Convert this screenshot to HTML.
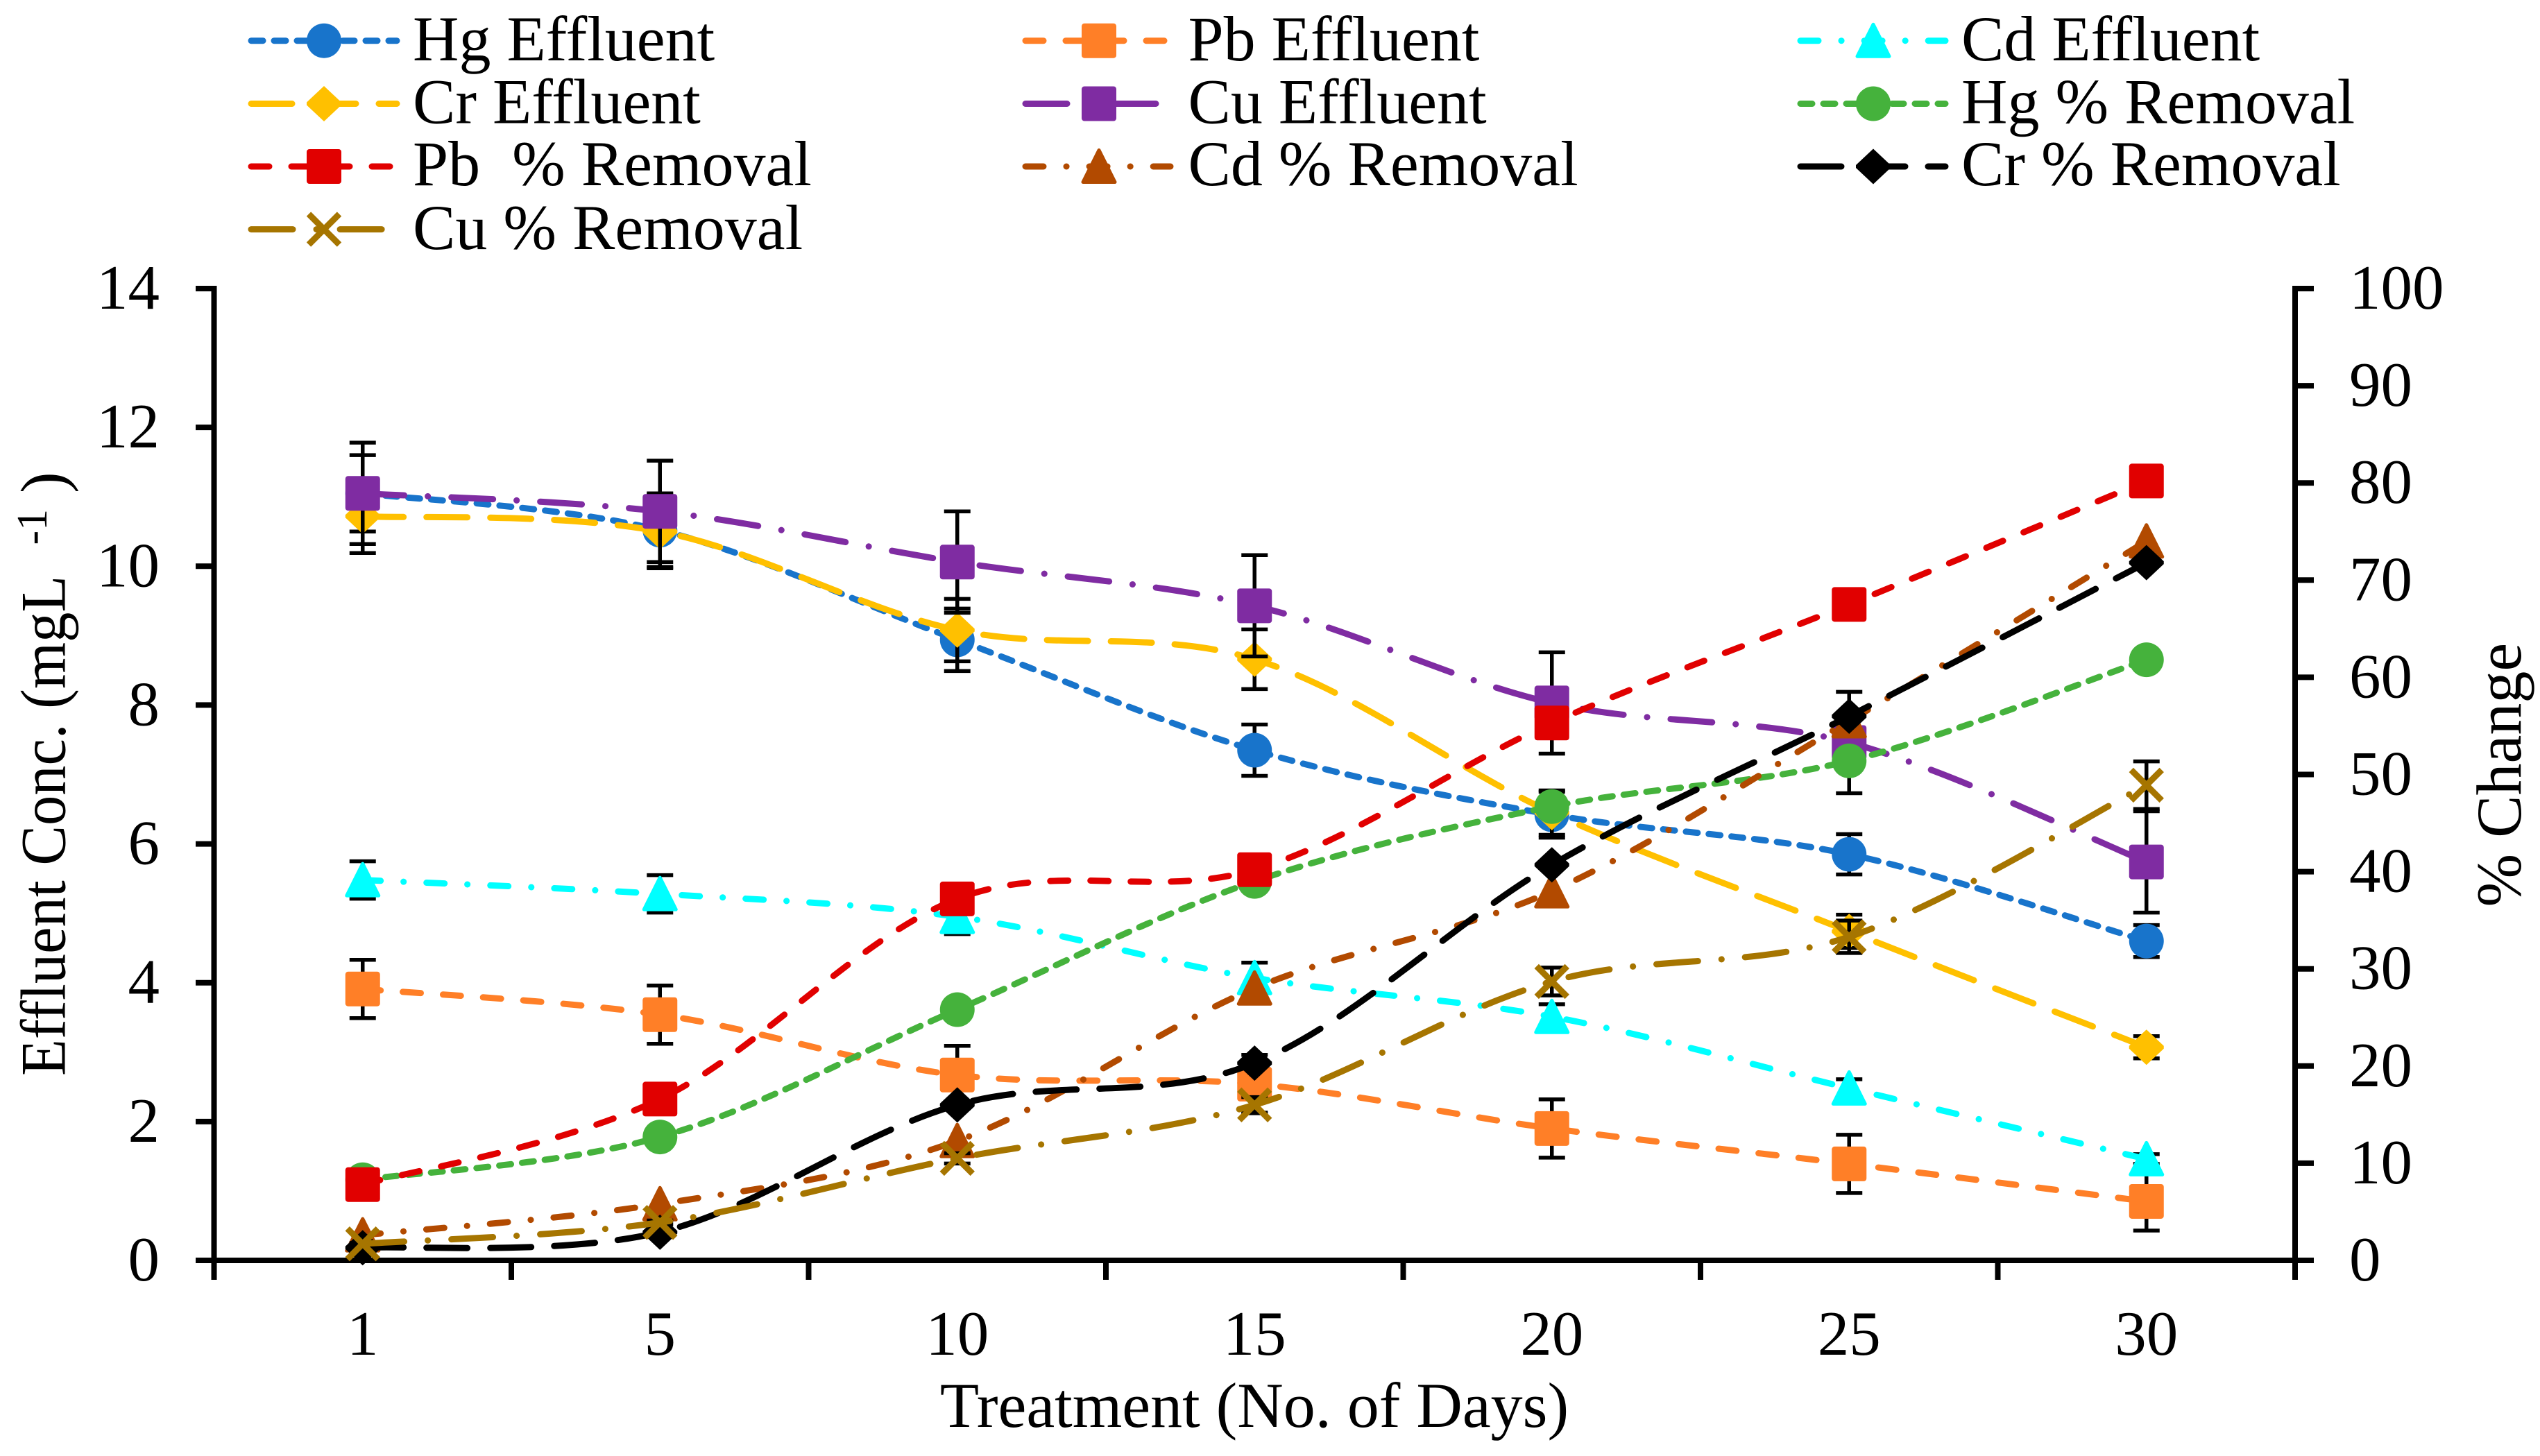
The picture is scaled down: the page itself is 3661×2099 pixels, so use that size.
<!DOCTYPE html>
<html lang="en">
<head>
<meta charset="utf-8">
<title>Effluent concentration and percent removal over treatment days</title>
<style>
html,body{margin:0;padding:0;background:#fff;width:3661px;height:2099px;overflow:hidden}
svg{display:block}
text{font-family:"Liberation Serif",serif;fill:#000;font-size:92px;white-space:pre}
text.tick{font-size:91px}
.ln{fill:none;stroke-width:9;stroke-linecap:round;stroke-linejoin:round}
.sysdot{stroke-dasharray:17 16}
.dash{stroke-dasharray:26 32}
.dashdot{stroke-dasharray:26 33 0.1 33}
.lgdash{stroke-dasharray:59 33}
.lgdashdot{stroke-dasharray:60 34 0.1 34}
</style>
</head>
<body>
<svg id="chart" xmlns="http://www.w3.org/2000/svg" width="3661" height="2099" viewBox="0 0 3661 2099">
  <rect width="3661" height="2099" fill="#fff"/>

  <g id="axes"></g>
  <g id="plot"></g>

  <text x="1808" y="2057" text-anchor="middle">Treatment (No. of Days)</text>
  <g transform="translate(93.5 1551) rotate(-90)">
    <text transform="scale(.94 1)">Effluent Conc. (mgL</text>
    <text x="765.5" y="-26.5" style="font-size:62px">-1</text>
    <text x="840" y="0">)</text>
  </g>
  <text transform="translate(3633 1307.5) rotate(-90)">% Change</text>

  <g>
    <g>
      <line class="ln sysdot" x1="362" y1="58.7" x2="572" y2="58.7" stroke="#1874CB"/>
      <circle cx="467" cy="58.7" r="25" fill="#1874CB"/>
      <text x="595" y="87">Hg Effluent</text>
    </g>
    <g>
      <line class="ln dash" x1="1478" y1="58.7" x2="1681" y2="58.7" stroke="#FF7F27"/>
      <rect x="1559" y="33.7" width="50" height="50" rx="4" fill="#FF7F27"/>
      <text x="1712.5" y="87">Pb Effluent</text>
    </g>
    <g>
      <line class="ln dashdot" x1="2595" y1="58.7" x2="2804" y2="58.7" stroke="#00FFFF"/>
      <polygon points="2700,35.2 2723,81.2 2677,81.2" fill="#00FFFF" stroke="#00FFFF" stroke-width="5" stroke-linejoin="round"/>
      <text x="2827" y="87">Cd Effluent</text>
    </g>
    <g>
      <line class="ln lgdash" x1="362" y1="149.5" x2="572" y2="149.5" stroke="#FFC000"/>
      <polygon points="467,124 492,147.5 492,151.5 467,175 442,151.5 442,147.5" fill="#FFC000"/>
      <text x="595" y="177.5">Cr Effluent</text>
    </g>
    <g>
      <line class="ln lgdashdot" x1="1478" y1="149.5" x2="1666" y2="149.5" stroke="#7F2CA2"/>
      <rect x="1559" y="124.5" width="50" height="50" rx="4" fill="#7F2CA2"/>
      <text x="1712.5" y="177.5">Cu Effluent</text>
    </g>
    <g>
      <line class="ln sysdot" x1="2595" y1="149.5" x2="2804" y2="149.5" stroke="#45B23C"/>
      <circle cx="2700" cy="149.5" r="25" fill="#45B23C"/>
      <text x="2827" y="177.5">Hg % Removal</text>
    </g>
    <g>
      <line class="ln dash" x1="362" y1="240" x2="572" y2="240" stroke="#E10000"/>
      <rect x="442" y="215" width="50" height="50" rx="4" fill="#E10000"/>
      <text x="595" y="267">Pb  % Removal</text>
    </g>
    <g>
      <line class="ln dashdot" x1="1478" y1="240" x2="1687" y2="240" stroke="#B24A00"/>
      <polygon points="1584,216.5 1607,262.5 1561,262.5" fill="#B24A00" stroke="#B24A00" stroke-width="5" stroke-linejoin="round"/>
      <text x="1712.5" y="267">Cd % Removal</text>
    </g>
    <g>
      <line class="ln lgdash" x1="2595" y1="240" x2="2804" y2="240" stroke="#000"/>
      <polygon points="2700,214.5 2725,238 2725,242 2700,265.5 2675,242 2675,238" fill="#000"/>
      <text x="2827" y="267">Cr % Removal</text>
    </g>
    <g>
      <line class="ln lgdashdot" x1="362" y1="330.6" x2="572" y2="330.6" stroke="#A67500"/>
      <path d="M445 308.6L489 352.6M489 308.6L445 352.6" stroke="#A67500" stroke-width="9" fill="none"/>
      <text x="595" y="359">Cu % Removal</text>
    </g>
  </g>
</svg>

<script>
const categories = ['1', '5', '10', '15', '20', '25', '30'];
const leftTickLabels = [0, 2, 4, 6, 8, 10, 12, 14];
const rightTickLabels = [0, 10, 20, 30, 40, 50, 60, 70, 80, 90, 100];

const hgEffluent = [11.05, 10.52, 8.94, 7.35, 6.42, 5.85, 4.6];
const pbEffluent = [3.91, 3.54, 2.67, 2.54, 1.9, 1.39, 0.85];
const cdEffluent = [5.48, 5.28, 4.95, 4.07, 3.51, 2.48, 1.46];
const crEffluent = [10.72, 10.5, 9.08, 8.66, 6.45, 4.74, 3.07];
const cuEffluent = [11.05, 10.79, 10.06, 9.43, 8.03, 7.46, 5.74];

const hgRemoval = [8.3, 12.7, 25.8, 39.0, 46.7, 51.4, 61.8];
const pbRemoval = [7.8, 16.6, 37.2, 40.2, 55.3, 67.5, 80.2];
const cdRemoval = [2.6, 5.8, 12.3, 28.0, 38.0, 55.5, 74.0];
const crRemoval = [1.3, 2.9, 16.0, 20.3, 40.7, 56.0, 71.8];
const cuRemoval = [1.7, 3.9, 10.5, 16.0, 28.7, 33.3, 48.9];

const hgEffluentErr = [0.55, 0.53, 0.45, 0.37, 0.33, 0.29, 0.23];
const pbEffluentErr = [0.42, 0.42, 0.42, 0.42, 0.42, 0.42, 0.42];
const cdEffluentErr = [0.27, 0.27, 0.25, 0.22, 0.18, 0.13, 0.07];
const crEffluentErr = [0.53, 0.53, 0.45, 0.43, 0.32, 0.24, 0.16];
const cuEffluentErr = [0.73, 0.73, 0.73, 0.73, 0.73, 0.73, 0.73];
const cuRemovalErr = [0.09, 0.2, 0.53, 0.8, 1.43, 1.67, 2.45];

const NS = 'http://www.w3.org/2000/svg';
const plotLeft = 308.5, plotRight = 3308, plotTop = 416, plotBottom = 1817;
const leftMax = 14, rightMax = 100;

function xPos(i) { return plotLeft + (i + 0.5) * (plotRight - plotLeft) / categories.length; }
function xEdge(i) { return plotLeft + i * (plotRight - plotLeft) / categories.length; }
function yLeft(v) { return plotBottom - v / leftMax * (plotBottom - plotTop); }
function yRight(v) { return plotBottom - v / rightMax * (plotBottom - plotTop); }

function make(tag, attrs, parent) {
  const el = document.createElementNS(NS, tag);
  for (const k in attrs) el.setAttribute(k, attrs[k]);
  parent.appendChild(el);
  return el;
}

const axes = document.getElementById('axes');
const plot = document.getElementById('plot');

function axisLine(x1, y1, x2, y2, name) {
  const el = make('line', { x1, y1, x2, y2, stroke: '#000', 'stroke-width': 8 }, axes);
  
  
}

axisLine(plotLeft, plotTop - 4, plotLeft, plotBottom + 4, 'y-axis-line');
axisLine(plotRight, plotTop - 4, plotRight, plotBottom + 4, 'secondary-y-axis-line');
axisLine(plotLeft - 4, plotBottom, plotRight + 4, plotBottom, 'x-axis-line');

for (let i = 0; i <= categories.length; i++) {
  axisLine(xEdge(i), plotBottom, xEdge(i), 1845, 'x-axis-tick');
}

categories.forEach(function (label, i) {
  const t = make('text', { x: xPos(i), y: 1953, 'text-anchor': 'middle', class: 'tick' }, axes);
  t.textContent = label;
  
  
});

leftTickLabels.forEach(function (v) {
  axisLine(282, yLeft(v), plotLeft, yLeft(v), 'y-axis-tick');
  const t = make('text', { x: 230, y: yLeft(v) + 29, 'text-anchor': 'end', class: 'tick' }, axes);
  t.textContent = v;
  
  
});

rightTickLabels.forEach(function (v) {
  axisLine(plotRight, yRight(v), 3335, yRight(v), 'secondary-y-axis-tick');
  const t = make('text', { x: 3386, y: yRight(v) + 29, 'text-anchor': 'start', class: 'tick' }, axes);
  t.textContent = v;
  
  
});

function smoothPath(pts) {
  let d = 'M' + pts[0][0] + ' ' + pts[0][1];
  for (let i = 0; i < pts.length - 1; i++) {
    const p0 = pts[Math.max(0, i - 1)];
    const p1 = pts[i];
    const p2 = pts[i + 1];
    const p3 = pts[Math.min(pts.length - 1, i + 2)];
    const c1x = p1[0] + (p2[0] - p0[0]) / 6, c1y = p1[1] + (p2[1] - p0[1]) / 6;
    const c2x = p2[0] - (p3[0] - p1[0]) / 6, c2y = p2[1] - (p3[1] - p1[1]) / 6;
    d += 'C' + c1x + ' ' + c1y + ' ' + c2x + ' ' + c2y + ' ' + p2[0] + ' ' + p2[1];
  }
  return d;
}

function drawMarker(kind, x, y, color, parent) {
  let el;
  if (kind === 'circle') {
    el = make('circle', { cx: x, cy: y, r: 25, fill: color }, parent);
  } else if (kind === 'square') {
    el = make('rect', { x: x - 25, y: y - 25, width: 50, height: 50, rx: 4, fill: color }, parent);
  } else if (kind === 'triangle') {
    el = make('polygon', {
      points: x + ',' + (y - 23.5) + ' ' + (x + 23) + ',' + (y + 22.5) + ' ' + (x - 23) + ',' + (y + 22.5),
      fill: color, stroke: color, 'stroke-width': 5, 'stroke-linejoin': 'round'
    }, parent);
  } else if (kind === 'diamond') {
    el = make('polygon', {
      points: x + ',' + (y - 25.5) + ' ' + (x + 25) + ',' + (y - 2) + ' ' + (x + 25) + ',' + (y + 2) + ' ' + x + ',' + (y + 25.5) + ' ' + (x - 25) + ',' + (y + 2) + ' ' + (x - 25) + ',' + (y - 2),
      fill: color
    }, parent);
  } else {
    el = make('path', {
      d: 'M' + (x - 22) + ' ' + (y - 22) + 'L' + (x + 22) + ' ' + (y + 22) + 'M' + (x + 22) + ' ' + (y - 22) + 'L' + (x - 22) + ' ' + (y + 22),
      stroke: color, 'stroke-width': 9, fill: 'none'
    }, parent);
  }
  return el;
}

function drawSeries(name, values, errors, yFn, color, dashClass, markerKind) {
  const g = make('g', {}, plot);
  
  

  if (errors) {
    values.forEach(function (v, i) {
      const x = xPos(i), hi = yFn(v + errors[i]), lo = yFn(v - errors[i]);
      const eb = make('path', {
        d: 'M' + x + ' ' + hi + 'V' + lo + 'M' + (x - 19) + ' ' + hi + 'H' + (x + 19) + 'M' + (x - 19) + ' ' + lo + 'H' + (x + 19),
        stroke: '#000', 'stroke-width': 5.5, fill: 'none'
      }, g);
      
      
    });
  }

  const pts = values.map(function (v, i) { return [xPos(i), yFn(v)]; });
  const line = make('path', { d: smoothPath(pts), class: 'ln ' + dashClass, stroke: color }, g);
  
  

  pts.forEach(function (p) {
    const m = drawMarker(markerKind, p[0], p[1], color, g);
    
    
  });
}

drawSeries('hg-effluent-series', hgEffluent, hgEffluentErr, yLeft, '#1874CB', 'sysdot', 'circle');
drawSeries('pb-effluent-series', pbEffluent, pbEffluentErr, yLeft, '#FF7F27', 'dash', 'square');
drawSeries('cd-effluent-series', cdEffluent, cdEffluentErr, yLeft, '#00FFFF', 'dashdot', 'triangle');
drawSeries('cr-effluent-series', crEffluent, crEffluentErr, yLeft, '#FFC000', 'lgdash', 'diamond');
drawSeries('cu-effluent-series', cuEffluent, cuEffluentErr, yLeft, '#7F2CA2', 'lgdashdot', 'square');
drawSeries('hg-removal-series', hgRemoval, null, yRight, '#45B23C', 'sysdot', 'circle');
drawSeries('pb-removal-series', pbRemoval, null, yRight, '#E10000', 'dash', 'square');
drawSeries('cd-removal-series', cdRemoval, null, yRight, '#B24A00', 'dashdot', 'triangle');
drawSeries('cr-removal-series', crRemoval, null, yRight, '#000000', 'lgdash', 'diamond');
drawSeries('cu-removal-series', cuRemoval, cuRemovalErr, yRight, '#A67500', 'lgdashdot', 'x');
</script>
</body>
</html>
